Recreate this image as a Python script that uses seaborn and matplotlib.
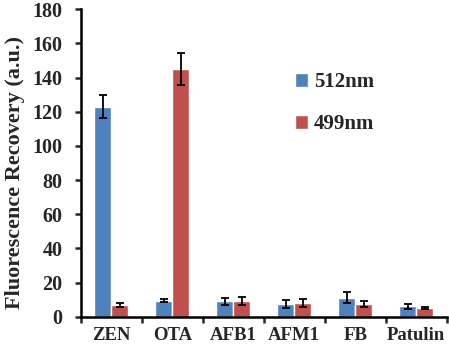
import matplotlib
matplotlib.use("Agg")
import matplotlib.pyplot as plt
import numpy as np
import pandas as pd
import seaborn as sns

sns.set_theme(style='white')
plt.rcParams['font.family'] = ['Liberation Serif', 'DejaVu Serif']
plt.rcParams['font.weight'] = 'bold'

# Data
categories = ['ZEN', 'OTA', 'AFB1', 'AFM1', 'FB', 'Patulin']
series = ['512nm', '499nm']
vals_512 = [123.0, 9.4, 9.0, 7.6, 11.2, 6.2]
err_512 = [6.6, 0.8, 2.0, 2.2, 3.4, 1.5]
vals_499 = [6.9, 145.0, 9.0, 7.9, 7.5, 5.4]
err_499 = [1.2, 9.2, 2.3, 2.4, 1.9, 0.6]
colors = ['#4F81BD', '#C0504D']

df = pd.DataFrame({
    'Toxin': categories * 2,
    'Wavelength': [series[0]] * 6 + [series[1]] * 6,
    'Value': vals_512 + vals_499,
})

fig, ax = plt.subplots(figsize=(4.49, 3.52), dpi=100)
fig.subplots_adjust(left=0.18, right=0.995, bottom=0.10, top=0.974)

sns.barplot(data=df, x='Toxin', y='Value', hue='Wavelength', order=categories,
            hue_order=series, palette=colors, width=0.56, errorbar=None,
            saturation=1, ax=ax)

# error bars on top of the seaborn bars
for cont, errs in zip(ax.containers, [err_512, err_499]):
    xs = [b.get_x() + b.get_width() / 2 for b in cont]
    hs = [b.get_height() for b in cont]
    ax.errorbar(xs, hs, yerr=errs, fmt='none', ecolor='black', elinewidth=1.3,
                capsize=2.6, capthick=1.3)

ax.set_ylim(0, 180)
ax.set_yticks(np.arange(0, 181, 20))
ax.set_xlim(-0.5, 5.5)
ax.set_xticks(np.arange(-0.5, 6, 1), minor=True)
ax.tick_params(axis='x', which='major', length=0, labelsize=13.5, pad=7)
ax.tick_params(axis='x', which='minor', length=4.3, width=1.8, direction='out', bottom=True)
ax.tick_params(axis='y', length=4.3, width=1.8, direction='out', left=True,
               labelsize=14.5, pad=9)
for lab in ax.get_xticklabels() + ax.get_yticklabels():
    lab.set_fontweight('bold')

sns.despine(ax=ax)
for s in ['left', 'bottom']:
    ax.spines[s].set_linewidth(1.8)
    ax.spines[s].set_color('black')

ax.set_xlabel('')
ax.set_ylabel('Fluorescence Recovery (a.u.)', fontsize=16, fontweight='bold')
ax.yaxis.set_label_coords(-0.153, 0.47)

leg = ax.legend(loc='upper left', bbox_to_anchor=(0.585, 0.795), frameon=False,
                prop={'size': 15, 'weight': 'bold'}, handlelength=0.65,
                handleheight=0.65, handletextpad=0.25, labelspacing=1.05,
                borderpad=0, borderaxespad=0)

fig.savefig('out.png', dpi=100)
